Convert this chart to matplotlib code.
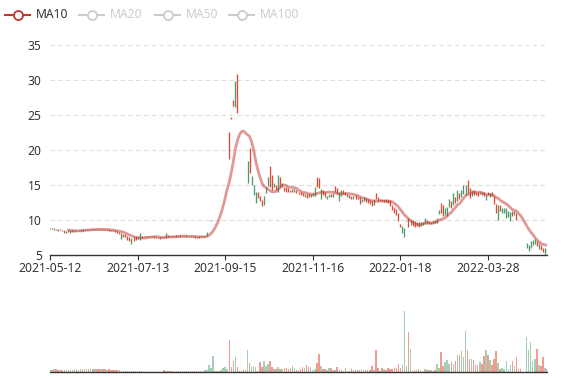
import matplotlib
matplotlib.use('Agg')
import matplotlib.pyplot as plt
from matplotlib.lines import Line2D
import numpy as np
import pandas as pd

plt.rcParams['font.family'] = ['Noto Sans', 'DejaVu Sans']

# ---------------- data ----------------
tick_labels = ['2021-05-12', '2021-07-13', '2021-09-15', '2021-11-16', '2022-01-18', '2022-03-28']
label_step = 43

opens = [8.60, 8.80, 8.55, 8.70, 8.60, 8.45, 8.55, 8.45, 8.15, 8.20,
         8.45, 8.20, 8.25, 8.50, 8.35, 8.40, 8.60, 8.45, 8.50, 8.65,
         8.55, 8.70, 8.55, 8.70, 8.70, 8.55, 8.65, 8.65, 8.45, 8.60,
         8.55, 8.50, 8.45, 8.30, 8.25, 7.20, 8.00, 7.90, 7.65, 7.50,
         6.50, 7.45, 7.60, 7.15, 7.10, 7.60, 7.45, 7.60, 7.50, 7.65,
         7.60, 7.40, 7.55, 7.50, 7.50, 7.30, 7.55, 7.40, 7.75, 7.50,
         7.70, 7.50, 7.75, 7.50, 7.75, 7.55, 7.70, 7.55, 7.70, 7.50,
         7.65, 7.60, 7.30, 7.60, 7.45, 7.70, 7.50, 7.65, 9.10, 9.80,
         10.95, 12.00, 13.20, 14.50, 16.00, 17.60, 19.30, 21.20, 22.50, 24.65,
         27.10, 26.10, 30.90, 22.80, 20.50, 18.45, 16.60, 15.20, 20.30, 14.95,
         13.50, 12.40, 14.00, 13.40, 12.80, 12.10, 13.85, 14.80, 17.70, 16.40,
         14.70, 15.00, 13.90, 16.10, 14.60, 14.70, 14.60, 14.50, 13.90, 14.40,
         14.00, 14.20, 14.00, 13.90, 13.80, 13.30, 13.70, 13.60, 13.20, 13.40,
         13.40, 16.10, 15.90, 13.00, 14.20, 13.90, 13.00, 13.20, 13.70, 13.20,
         14.80, 14.50, 12.60, 13.40, 14.20, 14.00, 13.20, 13.50, 13.40, 13.00,
         13.50, 13.30, 13.30, 12.50, 12.70, 13.10, 12.90, 12.80, 12.60, 12.10,
         13.80, 13.20, 12.60, 13.00, 12.50, 12.90, 12.90, 12.80, 12.10, 11.80,
         11.50, 10.90, 9.40, 8.10, 7.45, 9.80, 10.20, 9.20, 9.90, 9.80,
         9.10, 9.60, 9.10, 9.20, 9.40, 9.90, 9.80, 9.30, 9.40, 9.90,
         9.50, 10.80, 12.40, 12.10, 10.70, 10.50, 11.80, 12.70, 12.10, 13.20,
         12.70, 13.80, 13.30, 13.60, 13.50, 15.70, 14.50, 13.40, 14.20, 14.00,
         13.90, 13.60, 14.00, 13.90, 12.80, 14.00, 13.20, 14.00, 13.40, 12.30,
         9.90, 12.10, 11.00, 10.90, 10.20, 10.40, 9.85, 11.30, 10.60, 10.90,
         8.90, 8.00, 7.20, 6.50, 6.00, 5.50, 6.00, 6.30, 6.50, 6.90,
         5.80, 6.30, 6.00, 4.90, 5.90]

closes = [8.85, 8.60, 8.80, 8.50, 8.40, 8.70, 8.30, 8.10, 8.40, 8.50,
          8.10, 8.50, 8.50, 8.30, 8.55, 8.60, 8.40, 8.65, 8.70, 8.50,
          8.70, 8.55, 8.72, 8.55, 8.50, 8.70, 8.50, 8.45, 8.60, 8.35,
          8.30, 8.30, 8.20, 8.05, 7.95, 8.10, 7.50, 7.45, 7.10, 7.00,
          7.30, 7.00, 7.10, 7.55, 8.10, 7.40, 7.65, 7.45, 7.70, 7.45,
          7.45, 7.60, 7.35, 7.30, 7.25, 7.55, 7.35, 8.10, 7.50, 7.70,
          7.55, 7.70, 7.55, 7.70, 7.55, 7.70, 7.50, 7.75, 7.50, 7.65,
          7.45, 7.30, 7.55, 7.35, 7.65, 7.50, 7.70, 8.27, 9.10, 9.95,
          10.95, 12.00, 13.20, 14.50, 16.00, 17.60, 19.30, 21.20, 18.70, 24.35,
          26.30, 29.90, 25.30, 22.80, 20.50, 18.45, 16.60, 18.40, 16.60, 16.20,
          14.95, 14.00, 13.05, 12.60, 11.95, 13.40, 14.70, 16.10, 14.70, 14.20,
          15.20, 14.30, 16.40, 14.70, 15.20, 14.10, 13.90, 14.00, 14.30, 14.00,
          14.40, 13.80, 13.70, 13.50, 13.40, 13.70, 13.10, 13.20, 13.60, 13.80,
          14.60, 14.70, 14.50, 14.40, 13.50, 13.30, 13.40, 13.60, 13.30, 13.80,
          14.00, 13.60, 14.00, 14.30, 13.70, 13.50, 13.60, 13.10, 13.00, 13.40,
          13.00, 12.90, 12.30, 13.00, 13.30, 12.50, 12.40, 12.20, 11.95, 12.90,
          12.90, 12.70, 13.00, 12.60, 12.90, 12.50, 12.40, 12.00, 11.40, 11.00,
          10.70, 9.85, 9.00, 9.10, 8.75, 10.00, 8.90, 10.00, 9.10, 9.00,
          9.60, 9.00, 9.70, 9.70, 10.20, 9.50, 9.40, 9.70, 9.80, 9.50,
          10.20, 11.40, 10.90, 10.50, 11.60, 11.80, 12.90, 11.60, 13.80, 12.40,
          14.30, 13.00, 14.30, 14.90, 14.90, 13.80, 13.05, 14.30, 13.50, 13.50,
          13.40, 13.90, 13.50, 13.40, 13.50, 13.50, 13.80, 13.40, 12.30, 11.00,
          12.10, 11.30, 11.60, 11.70, 11.60, 11.20, 11.10, 10.50, 11.30, 9.90,
          8.90, 8.00, 7.20, 6.50, 6.60, 6.40, 6.90, 7.10, 7.20, 6.20,
          6.60, 5.60, 5.40, 6.00, 5.60]

volumes = [23, 25, 27, 27, 24, 23, 20, 20, 18, 20, 22, 20,
           27, 27, 25, 26, 28,
           30, 30, 28, 30, 30, 28, 30, 29, 27,
           27, 27, 25, 27,
           20, 20, 18, 20, 18,
           10, 12, 10, 8, 10, 12, 10, 10, 8, 10, 8,
           3, 3, 4, 3, 3, 3, 4, 3, 3, 3, 17,
           7, 7, 6, 7, 7, 6, 7, 7, 6, 7, 7,
           10, 7, 10, 8, 7, 10, 8, 7,
           20, 20, 67, 40, 157, 10, 10, 10, 20, 37, 53, 30,
           317, 53, 113, 147, 47, 7, 7, 20, 20, 217, 93,
           60, 57, 47, 13, 103, 47, 107, 63, 80, 113, 47, 33,
           33, 47, 30, 30, 37, 40, 27, 40, 63, 40,
           23, 23, 33, 50, 45, 73, 50, 50, 23, 33,
           90, 180, 63, 33, 30, 23, 43, 43, 23, 23,
           50, 23, 23, 13, 43, 13, 13, 30, 23, 23,
           23, 23, 33, 23, 23, 23, 20, 57, 23, 223,
           40, 10, 43, 30, 23, 43, 33, 33, 43, 43,
           83, 40, 73, 613, 63, 397, 230, 10, 23, 23,
           33, 10, 10, 33, 23, 23, 20, 10, 23, 83,
           40, 197, 57, 97, 123, 83, 103, 83, 107, 167,
           167, 213, 147, 407, 223, 133, 130, 117, 73, 73,
           97, 83, 157, 220, 173, 123, 73, 133, 210, 90,
           33, 40, 33, 113, 30, 73, 107, 63, 150, 27,
           30, 5, 5, 347, 220, 297, 107, 133, 230, 73,
           63, 147, 40, 30]

legend_names = ['MA10', 'MA20', 'MA50', 'MA100']

# ---------------- style ----------------
UP = '#4f9a6a'      # close above open
DOWN = '#dd4b39'    # close below open
UP_V = '#a6cdb5'
DOWN_V = '#ee9d90'
MA_COLOR = '#c23531'
TXT = '#333333'
FS = 8.7

W, H = 577, 380
fig = plt.figure(figsize=(W / 100, H / 100), dpi=100)


def box(l, t, r, b):
    return [l / W, 1 - b / H, (r - l) / W, (b - t) / H]


ax = fig.add_axes(box(50, 45, 547, 254.5))
axv = fig.add_axes(box(50, 292, 547, 372))

o = np.array(opens, dtype=float)
c = np.array(closes, dtype=float)
v = np.array(volumes, dtype=float)
n = len(c)
x = np.arange(n)
prev = np.r_[c[0], c[:-1]]
rising = np.where(c != o, c > o, c >= prev)

lo = np.minimum(o, c)
hi = np.maximum(o, c)
vis = hi > lo
ccol = np.where(rising, UP, DOWN)
ax.vlines(x[vis], lo[vis], hi[vis], colors=ccol[vis], linewidth=0.95,
          capstyle='butt', zorder=3)

ma10 = pd.Series(c).rolling(10).mean()
ax.plot(x, ma10, color=MA_COLOR, alpha=0.5, lw=2.0, zorder=4,
        solid_joinstyle='round', solid_capstyle='round')

ax.set_xlim(0, n - 1)
ax.set_ylim(5, 35)
ax.set_yticks(np.arange(5, 36, 5))
ax.set_xticks(np.arange(0, len(tick_labels) * label_step, label_step))
ax.set_xticklabels(tick_labels)
for s in ['top', 'right', 'left']:
    ax.spines[s].set_visible(False)
ax.spines['bottom'].set_color(TXT)
ax.spines['bottom'].set_linewidth(1.0)
ax.tick_params(axis='y', length=0, pad=6, labelsize=FS, labelcolor=TXT)
ax.tick_params(axis='x', length=3.6, width=0.8, color=TXT, pad=2,
               labelsize=FS, labelcolor=TXT)
for yv in range(10, 36, 5):
    ax.axhline(yv, color='#dddddd', lw=0.8, dashes=(4, 3), zorder=1)

vcol = np.where(rising, UP_V, DOWN_V)
axv.bar(x, v, width=0.72, color=vcol, linewidth=0, zorder=2)
axv.set_xlim(0, n - 1)
axv.set_ylim(0, 800)
for s in ['top', 'right', 'left']:
    axv.spines[s].set_visible(False)
axv.spines['bottom'].set_color(TXT)
axv.spines['bottom'].set_linewidth(1.0)
axv.set_xticks([])
axv.set_yticks([])

# ---------------- legend ----------------
leg_x = [5, 79, 155, 229]
for i, name in enumerate(legend_names):
    col = MA_COLOR if i == 0 else '#cccccc'
    tc = TXT if i == 0 else '#cccccc'
    x0 = leg_x[i]
    yy = 1 - 15 / H
    fig.add_artist(Line2D([x0 / W, (x0 + 25) / W], [yy, yy], color=col, lw=1.5,
                          transform=fig.transFigure))
    fig.add_artist(Line2D([(x0 + 12.5) / W], [yy], marker='o', markersize=6.5,
                          markerfacecolor='white', markeredgecolor=col, mew=1.3,
                          transform=fig.transFigure))
    fig.text((x0 + 31) / W, yy, name, color=tc, fontsize=FS, va='center', ha='left')

fig.savefig('out.png', dpi=100)
